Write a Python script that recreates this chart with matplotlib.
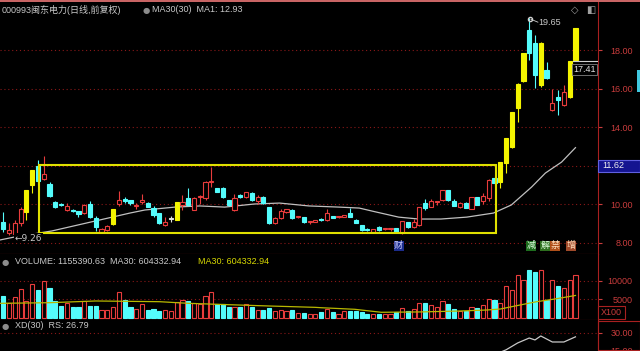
import matplotlib
matplotlib.use('Agg')
import matplotlib.pyplot as plt
from matplotlib.patches import Rectangle

plt.rcParams['font.family'] = ['Liberation Sans', 'Noto Sans CJK SC', 'DejaVu Sans']

# daily candles (price, yuan)
opens = [9.06, 8.49, 8.44, 9.01, 9.58, 10.99, 12.00, 11.30, 11.04, 10.10,
         9.97, 9.69, 9.66, 9.64, 9.53, 10.00, 9.27, 8.55, 8.65, 8.96,
         10.00, 10.22, 10.20, 9.88, 10.10, 10.05, 9.79, 9.53, 8.91, 9.22,
         9.17, 9.95, 10.31, 9.69, 10.34, 10.31, 11.12, 10.83, 10.83, 10.20,
         9.69, 10.47, 10.36, 10.57, 10.15, 10.36, 9.84, 9.01, 9.27, 9.58,
         9.69, 9.30, 9.32, 9.04, 9.06, 9.19, 9.17, 9.37, 9.30, 9.32,
         9.53, 9.17, 8.91, 8.66, 8.55, 8.80, 8.68, 8.68, 8.75, 8.49,
         9.06, 8.80, 8.91, 10.05, 9.84, 10.08, 10.20, 10.73, 10.15, 9.84,
         10.05, 9.74, 10.36, 10.15, 10.31, 11.35, 11.14, 12.13, 12.96, 14.99,
         16.39, 19.04, 18.36, 16.18, 16.96, 14.88, 15.56, 15.14, 15.56, 17.48]
closes = [8.70, 8.65, 9.01, 9.74, 10.71, 11.75, 11.20, 11.56, 10.42, 9.84,
          9.93, 9.90, 9.62, 9.48, 9.95, 9.32, 8.81, 8.70, 8.86, 9.74,
          10.20, 10.18, 10.05, 9.92, 10.20, 9.85, 9.43, 9.01, 9.06, 9.22,
          10.10, 10.10, 9.95, 10.31, 10.38, 11.14, 11.16, 10.62, 10.36, 9.95,
          10.31, 10.36, 10.62, 10.20, 10.36, 10.05, 9.01, 9.27, 9.64, 9.74,
          9.27, 9.34, 9.06, 9.08, 9.17, 9.15, 9.53, 9.27, 9.34, 9.43,
          9.32, 9.01, 8.65, 8.63, 8.70, 8.65, 8.72, 8.72, 8.55, 9.12,
          8.80, 9.06, 9.84, 9.79, 10.15, 10.12, 10.73, 10.20, 9.90, 10.05,
          9.79, 10.36, 9.95, 10.42, 11.25, 11.09, 12.20, 13.42, 14.76, 16.24,
          17.86, 17.84, 16.70, 18.37, 16.55, 15.25, 15.40, 15.83, 17.41, 19.15]
highs = [9.58, 9.01, 9.17, 9.84, 10.71, 11.78, 12.30, 12.49, 11.14, 10.15,
         10.05, 10.05, 9.72, 9.66, 10.00, 10.15, 9.40, 8.75, 8.92, 9.74,
         10.68, 10.35, 10.22, 10.05, 10.50, 10.10, 9.90, 9.55, 9.32, 9.40,
         10.10, 10.47, 10.83, 10.36, 10.47, 11.20, 11.92, 10.85, 10.88, 10.22,
         10.52, 10.50, 10.65, 10.60, 10.45, 10.42, 9.86, 9.30, 9.74, 9.76,
         9.72, 9.40, 9.34, 9.12, 9.19, 9.25, 9.72, 9.39, 9.37, 9.45,
         9.79, 9.20, 8.93, 8.75, 8.72, 8.84, 8.78, 8.76, 8.78, 9.14,
         9.08, 9.22, 9.86, 10.25, 10.25, 10.18, 10.75, 10.75, 10.25, 10.10,
         10.08, 10.38, 10.38, 10.57, 11.30, 11.40, 12.20, 13.42, 14.78, 16.29,
         17.87, 19.65, 18.78, 18.40, 17.38, 15.97, 15.92, 16.18, 17.41, 19.15]
lows = [8.55, 8.40, 8.40, 8.86, 9.17, 10.57, 11.00, 11.25, 10.36, 9.79,
        9.88, 9.64, 9.58, 9.32, 9.50, 9.27, 8.60, 8.50, 8.60, 8.93,
        9.90, 10.05, 9.95, 9.75, 9.98, 9.82, 9.30, 8.98, 8.88, 9.05,
        9.15, 9.70, 9.90, 9.69, 10.00, 10.20, 10.90, 10.60, 10.30, 9.90,
        9.66, 10.33, 10.30, 10.15, 9.98, 10.02, 8.98, 8.98, 9.20, 9.53,
        9.24, 9.28, 9.03, 8.96, 9.04, 9.10, 9.12, 9.25, 9.28, 9.30,
        9.30, 8.99, 8.62, 8.60, 8.52, 8.62, 8.65, 8.62, 8.52, 8.44,
        8.78, 8.76, 8.88, 9.70, 9.82, 9.95, 10.18, 10.18, 9.88, 9.78,
        9.77, 9.72, 9.93, 9.98, 10.15, 10.95, 10.83, 11.60, 12.90, 14.26,
        16.35, 17.48, 16.03, 16.10, 16.50, 14.85, 14.62, 15.10, 15.50, 17.45]
limit_up_days = [4, 5, 19, 30, 86, 87, 88, 89, 90, 93, 98, 99]

# volume in lots of 100 shares
volumes = [5900, 3900, 5600, 7800, 4500, 9300, 7600, 9900, 8000, 4500,
           3100, 4100, 2900, 3000, 4500, 3100, 3300, 2000, 2200, 3000,
           7000, 4700, 3000, 2400, 3700, 2000, 2400, 1800, 2000, 1800,
           4300, 4700, 4500, 3900, 3700, 6000, 6900, 3700, 3700, 3000,
           3000, 3000, 3700, 3000, 2200, 2200, 2500, 1800, 2000, 1800,
           2200, 1300, 1300, 1100, 1100, 1400, 2300, 1600, 1100, 1800,
           1800, 1800, 1500, 900, 900, 900, 1100, 1100, 1400, 2500,
           1800, 2300, 4100, 3900, 3500, 2800, 4500, 3600, 2400, 1800,
           1800, 2800, 2500, 3500, 5000, 4700, 3900, 8600, 7500, 11700,
           10300, 13100, 12400, 13100, 4700, 10300, 8600, 8000, 10300, 11554]

# MA30 of the close, read at points along the line
ma_idx = [-0.6, 2, 8.4, 21.9, 24.5, 29.7, 34, 38.3, 43.4, 47.8, 49.5, 52.9,
          58.1, 61.6, 64, 68.4, 71.9, 75.7, 80.2, 84.8, 87.9, 91.4, 93.8, 96.6, 99]
ma_val = [8.13, 8.29, 8.60, 9.53, 9.69, 9.84, 9.90, 9.84, 10.00, 10.05, 10.00, 9.90,
          9.84, 9.79, 9.62, 9.32, 9.22, 9.22, 9.32, 9.53, 9.95, 10.88, 11.61, 12.18, 12.93]

# MA30 of volume
vma_idx = [-0.6, 8, 16, 27, 32, 37, 46, 54, 55, 60.8, 65.4, 72.2, 79.1, 83.7, 86, 89.4, 92.3, 95.1, 99]
vma_val = [3900, 4070, 4540, 4350, 3900, 3630, 3170, 2800, 2700, 2270, 1450, 1550, 1800,
           2080, 2350, 3440, 4350, 5000, 6043]

# XD(30) RS line
rs_idx = [85, 87, 89, 91, 92, 93, 95, 97, 99]
rs_val = [12, 16, 21.7, 25.8, 24.2, 27.5, 22.5, 22.5, 26.79]

RED = '#e83c3c'
CYAN = '#54fcfc'
YEL = '#f4f400'
AXRED = '#a82020'
GRID = '#8a1818'
LBL = '#c83c3c'
TXT = '#c8c8c8'

W, H = 640, 351
fig = plt.figure(figsize=(6.4, 3.51), dpi=100, facecolor='black')


def frac(x, y):
    return x / W, 1 - y / H


def ftext(x, y, s, **kw):
    fx, fy = frac(x, y)
    kw.setdefault('fontsize', 6.5)
    kw.setdefault('va', 'center')
    return fig.text(fx, fy, s, **kw)


ax = fig.add_axes([0, 97 / H, 598 / W, 253 / H])
axv = fig.add_axes([0, 31 / H, 598 / W, 66 / H])
axx = fig.add_axes([0, 0, 598 / W, 31 / H])

xlim = (-0.57, 102.9)
for a in (ax, axv, axx):
    a.set_facecolor('black')
    a.set_xlim(*xlim)
    a.set_xticks([])
    for s in ('left', 'top'):
        a.spines[s].set_visible(False)
    a.spines['right'].set_color(AXRED)
    a.spines['bottom'].set_color(AXRED)
    a.yaxis.tick_right()
    a.tick_params(axis='y', colors=LBL, labelsize=6.5, length=3, width=0.8, pad=22)

ax.set_ylim(7.403, 20.55)
axv.set_ylim(-656, 17377)
axx.set_ylim(15, 40.8)
axx.spines['bottom'].set_visible(False)

# grids and ticks
ax.set_yticks([8, 10, 12, 14, 16, 18])
ax.set_yticklabels(['8.00', '10.00', '', '14.00', '16.00', '18.00'])
axv.set_yticks([5000, 10000])
axv.set_yticklabels(['5000', '10000'])
axx.set_yticks([15, 30])
axx.set_yticklabels(['15.00', '30.00'])
for a, levels in ((ax, [8, 10, 12, 14, 16, 18]), (axv, [5000, 10000]), (axx, [30])):
    for lv in levels:
        a.axhline(lv, color=GRID, lw=0.8, ls=(0, (1, 2.5)), zorder=1)
    for lbl in a.get_yticklabels():
        lbl.set_ha('right')

# MA30 line
ax.plot(ma_idx, ma_val, color='#c0c0c0', lw=0.9, zorder=2)

# candles
bw = 0.72
for i in range(len(opens)):
    o, c, h, l = opens[i], closes[i], highs[i], lows[i]
    if i in limit_up_days:
        col, face = YEL, YEL
    elif c > o:
        col, face = RED, 'black'
    elif c < o:
        col, face = CYAN, CYAN
    else:
        col, face = '#e0e0e0', '#e0e0e0'
    ax.vlines(i, l, h, color=col, lw=0.8, zorder=3)
    lo = min(o, c)
    hgt = max(abs(c - o), 0.06)
    ax.add_patch(Rectangle((i - bw / 2, lo), bw, hgt, facecolor=face,
                           edgecolor=col, lw=0.8, zorder=4))

    vcol = CYAN if (c < o and i not in limit_up_days) else RED
    vface = CYAN if vcol == CYAN else 'black'
    axv.add_patch(Rectangle((i - bw / 2, 0), bw, volumes[i], facecolor=vface,
                            edgecolor=vcol, lw=0.8, zorder=3))

axv.plot(vma_idx, vma_val, color='#b8b800', lw=0.9, zorder=4)
axx.plot(rs_idx, rs_val, color='#c8c8c8', lw=0.9, zorder=3)

# consolidation box
ax.add_patch(Rectangle((6.2, 8.49), 79.0, 3.54, fill=False, edgecolor='#e0e000',
                       lw=1.5, zorder=5))

# annotations on the price panel
ax.text(2.0, 8.23, '←9.26', color=TXT, fontsize=6.5, va='center', zorder=6,
        family=['DejaVu Sans'], bbox=dict(facecolor='black', edgecolor='none', pad=0.5))
ax.plot([91.1], [19.62], marker='o', ms=3, mfc='none', mec='#d0d0d0', zorder=6)
ax.plot([91.3, 92.5], [19.6, 19.45], color='#d0d0d0', lw=0.6, zorder=6)
ax.text(92.6, 19.45, '19.65', color=TXT, fontsize=6.5, va='center', zorder=6)
ax.plot([98.6, 102.9], [17.45, 17.45], color='#d0d0d0', lw=0.8, zorder=6)
ax.text(102.5, 17.0, '17.41', color='#e0e0e0', fontsize=6.5, va='center', ha='right',
        zorder=6, bbox=dict(facecolor='black', edgecolor='#808080', pad=0.8, lw=0.6))

# event markers
ax.text(68.4, 7.83, '财', color='#d0d0ff', fontsize=6.5, ha='center', va='center',
        bbox=dict(facecolor='#1c2c8c', edgecolor='none', pad=0.4))
ax.text(91.3, 7.83, '减', color='#e0ffe0', fontsize=6.5, ha='center', va='center',
        bbox=dict(facecolor='#1e6e1e', edgecolor='none', pad=0.4))
ax.text(93.7, 7.83, '解', color='#e0ffe0', fontsize=6.5, ha='center', va='center',
        bbox=dict(facecolor='#2e6e1e', edgecolor='none', pad=0.4))
ax.text(95.4, 7.83, '禁', color='#ffe0c0', fontsize=6.5, ha='center', va='center',
        bbox=dict(facecolor='#b0501a', edgecolor='none', pad=0.4))
ax.text(98.3, 7.83, '增', color='#ffe0c0', fontsize=6.5, ha='center', va='center',
        bbox=dict(facecolor='#a04a2a', edgecolor='none', pad=0.4))

# headers
ftext(2, 10, '000993闽东电力(日线,前复权)', color=TXT)
ftext(143, 10, '●', color='#8c8c8c', fontsize=6, family=['DejaVu Sans'])
ftext(152, 10, 'MA30(30)  MA1: 12.93', color=TXT)
ftext(571, 10, '◇', color='#a0a0a0', fontsize=7, family=['DejaVu Sans'])
ftext(586, 10, '◧', color='#a0a0a0', fontsize=7, family=['DejaVu Sans'])

ftext(2, 262, '●', color='#8c8c8c', fontsize=6, family=['DejaVu Sans'])
ftext(15, 262, 'VOLUME: 1155390.63  MA30: 604332.94', color=TXT)
ftext(198, 262, 'MA30: 604332.94', color='#d8d800')
ftext(2, 326, '●', color='#8c8c8c', fontsize=6, family=['DejaVu Sans'])
ftext(15, 326, 'XD(30)  RS: 26.79', color=TXT)

# right-side boxes
fx, fy = frac(598, 172)
fig.patches.append(Rectangle((fx, fy), 42 / W, 12 / H, transform=fig.transFigure,
                             facecolor='#141490', edgecolor='#6060e0', lw=0.8, zorder=5))
ftext(602, 166, '11.62', color='#f0f0f0', zorder=6)
fx, fy = frac(598, 319)
fig.patches.append(Rectangle((fx, fy), 27 / W, 13 / H, transform=fig.transFigure,
                             facecolor='black', edgecolor=AXRED, lw=0.8, zorder=5))
ftext(601, 312.5, 'X100', color=LBL, zorder=6)
fx, fy = frac(598, 350)
fig.patches.append(Rectangle((fx, fy), 41.5 / W, 29 / H, transform=fig.transFigure,
                             facecolor='none', edgecolor=AXRED, lw=0.8, zorder=5))
fx, fy = frac(637, 92)
fig.patches.append(Rectangle((fx, fy), 3 / W, 22 / H, transform=fig.transFigure,
                             facecolor='#40c8e0', edgecolor='none', zorder=5))
fx, fy = frac(0, 1.5)
fig.patches.append(Rectangle((fx, fy), 1, 1.5 / H, transform=fig.transFigure,
                             facecolor='#c86464', edgecolor='none', zorder=5))

fig.savefig('out.png', dpi=100, facecolor='black')
